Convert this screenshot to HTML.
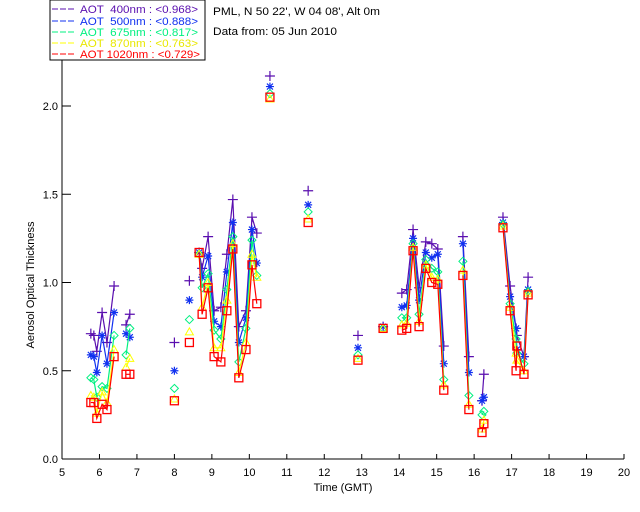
<!DOCTYPE html>
<html><head><meta charset="utf-8"><style>
body{margin:0;background:#fff;width:640px;height:512px;overflow:hidden;font-family:"Liberation Sans",sans-serif}
svg{display:block}
text{font-family:"Liberation Sans",sans-serif;font-size:11px;white-space:pre}
</style></head><body>
<svg id="chart" width="640" height="512" viewBox="0 0 640 512" xml:space="preserve">
<rect x="50" y="0" width="155" height="60" fill="#fff" stroke="#000"/>
<g font-size="11">
<g><line x1="52" y1="9" x2="75" y2="9" stroke="#5a0faf" stroke-dasharray="6,2"/><text x="80" y="13" fill="#5a0faf" textLength="118" lengthAdjust="spacingAndGlyphs">AOT  400nm : &lt;0.968&gt;</text></g>
<g><line x1="52" y1="21" x2="75" y2="21" stroke="#1030f0" stroke-dasharray="6,2"/><text x="80" y="25" fill="#1030f0" textLength="118" lengthAdjust="spacingAndGlyphs">AOT  500nm : &lt;0.888&gt;</text></g>
<g><line x1="52" y1="32" x2="75" y2="32" stroke="#00f080" stroke-dasharray="6,2"/><text x="80" y="36" fill="#00f080" textLength="118" lengthAdjust="spacingAndGlyphs">AOT  675nm : &lt;0.817&gt;</text></g>
<g><line x1="52" y1="43" x2="75" y2="43" stroke="#ffff00" stroke-dasharray="6,2"/><text x="80" y="47" fill="#e8e800" textLength="118" lengthAdjust="spacingAndGlyphs">AOT  870nm : &lt;0.763&gt;</text></g>
<g><line x1="52" y1="54" x2="75" y2="54" stroke="#ff0000" stroke-dasharray="6,2"/><text x="80" y="58" fill="#ff0000" textLength="120" lengthAdjust="spacingAndGlyphs">AOT 1020nm : &lt;0.729&gt;</text></g>
</g>
<text x="213" y="15" textLength="167" lengthAdjust="spacingAndGlyphs">PML, N 50 22', W 04 08', Alt 0m</text>
<text x="213" y="35" textLength="124" lengthAdjust="spacingAndGlyphs">Data from: 05 Jun 2010</text>
<text x="343" y="491" text-anchor="middle">Time (GMT)</text>
<text transform="translate(34,285) rotate(-90)" text-anchor="middle" font-size="10">Aerosol Optical Thickness</text>
<g id="axes"></g>
<g id="marks"></g>
</svg>
<script>
const xTicks=[5,6,7,8,9,10,11,12,13,14,15,16,17,18,19,20];
const yTicks=[0.0,0.5,1.0,1.5,2.0];
const yTickLabels=["0.0","0.5","1.0","1.5","2.0"];
const times=[5.77,5.85,5.93,6.07,6.2,6.39,6.71,6.81,8.0,8.4,8.66,8.74,8.90,9.06,9.24,9.40,9.56,9.72,9.91,10.07,10.20,10.55,11.57,12.9,13.57,14.07,14.2,14.37,14.53,14.71,14.87,15.03,15.19,15.7,15.86,16.21,16.26,16.77,16.96,17.12,17.14,17.33,17.44];
const aot400=[0.71,0.70,0.61,0.83,0.66,0.98,0.76,0.82,0.66,1.01,1.17,1.08,1.26,0.84,0.86,1.16,1.47,0.75,0.84,1.37,1.28,2.17,1.52,0.70,0.75,0.94,0.96,1.30,0.97,1.23,1.22,1.19,0.64,1.26,0.58,0.33,0.48,1.37,0.98,0.74,0.70,0.58,1.03];
const aot500=[0.59,0.58,0.49,0.70,0.54,0.83,0.71,0.69,0.50,0.90,1.17,1.03,1.15,0.78,0.75,1.06,1.34,0.66,0.80,1.30,1.11,2.11,1.44,0.63,0.75,0.86,0.87,1.25,0.90,1.17,1.14,1.16,0.54,1.22,0.49,0.33,0.35,1.34,0.92,0.74,0.62,0.58,0.96];
const aot675=[0.46,0.45,0.35,0.41,0.40,0.70,0.59,0.74,0.40,0.79,1.16,0.97,1.05,0.73,0.68,0.96,1.26,0.55,0.74,1.24,1.04,2.07,1.40,0.59,0.74,0.80,0.80,1.22,0.82,1.13,1.08,1.06,0.45,1.12,0.36,0.25,0.27,1.33,0.88,0.68,0.60,0.54,0.95];
const aot870=[0.36,0.35,0.26,0.38,0.32,0.62,0.52,0.57,0.34,0.72,1.16,0.86,1.00,0.63,0.63,0.90,1.22,0.49,0.66,1.16,1.03,2.04,1.36,0.57,0.74,0.76,0.77,1.20,0.78,1.10,1.03,1.02,0.42,1.07,0.31,0.17,0.22,1.32,0.86,0.60,0.56,0.50,0.94];
const aot1020=[0.32,0.32,0.23,0.31,0.28,0.58,0.48,0.48,0.33,0.66,1.17,0.82,0.97,0.58,0.55,0.84,1.19,0.46,0.62,1.10,0.88,2.05,1.34,0.56,0.74,0.73,0.74,1.18,0.75,1.08,1.00,0.99,0.39,1.04,0.28,0.15,0.20,1.31,0.84,0.50,0.64,0.48,0.93];
const NS="http://www.w3.org/2000/svg";
const X0=62,X1=624,Y0=459,Y1=106;
function sx(t){return X0+(t-5)*(X1-X0)/15;}
function sy(v){return Y0-v*(Y0-Y1)/2;}
function mk(tag,attrs,parent){const e=document.createElementNS(NS,tag);for(const k in attrs)e.setAttribute(k,attrs[k]);parent.appendChild(e);return e;}
const axes=document.getElementById('axes'),marks=document.getElementById('marks');
let ax=mk('line',{x1:X0,y1:60,x2:X0,y2:Y0,stroke:'#000'},axes);


let bx=mk('line',{x1:X0,y1:Y0,x2:X1,y2:Y0,stroke:'#000'},axes);


xTicks.forEach(t=>{const x=sx(t);
 const l=mk('line',{x1:x,y1:Y0,x2:x,y2:Y0-5,stroke:'#000'},axes);
 
 
 const tx=mk('text',{x:x,y:476,'text-anchor':'middle'},axes);tx.textContent=t;
 
 });
yTicks.forEach((v,i)=>{const y=sy(v);
 const l=mk('line',{x1:X0,y1:y,x2:X0+9,y2:y,stroke:'#000'},axes);
 
 
 const tx=mk('text',{x:X0-4,y:y+4,'text-anchor':'end'},axes);tx.textContent=yTickLabels[i];
 
 });
const series=[[aot400,'#5a0faf','plus','series-400nm'],[aot500,'#1030f0','star','series-500nm'],[aot675,'#00f080','diamond','series-675nm'],[aot870,'#ffff00','triangle','series-870nm'],[aot1020,'#ff0000','square','series-1020nm']];
series.forEach(([vals,col,sym,name])=>{
 const g=mk('g',{},marks);
 
 
 let d='';
 for(let i=0;i<times.length;i++){
  const x=sx(times[i]).toFixed(1),y=sy(vals[i]).toFixed(1);
  if(i>0&&times[i]-times[i-1]<0.25)d+='L'+x+' '+y;else d+='M'+x+' '+y;
 }
 const p=mk('path',{d:d,fill:'none',stroke:col,'stroke-width':1.2},g);
 
 
 for(let i=0;i<times.length;i++){
  const x=sx(times[i]),y=sy(vals[i]);let m;
  if(sym==='plus')m=mk('path',{d:`M${x-5} ${y}h10M${x} ${y-5}v10`,stroke:col,'stroke-width':1.2,fill:'none'},g);
  else if(sym==='star')m=mk('path',{d:`M${x-4} ${y}h8M${x} ${y-4}v8M${x-3} ${y-3}l6 6M${x-3} ${y+3}l6 -6`,stroke:col,'stroke-width':1.2,fill:'none'},g);
  else if(sym==='diamond')m=mk('path',{d:`M${x} ${y-4}L${x+4} ${y}L${x} ${y+4}L${x-4} ${y}Z`,stroke:col,'stroke-width':1,fill:'none'},g);
  else if(sym==='triangle')m=mk('path',{d:`M${x} ${y-4}L${x+4} ${y+3}L${x-4} ${y+3}Z`,stroke:col,'stroke-width':1,fill:'none'},g);
  else m=mk('rect',{x:x-4,y:y-4,width:8,height:8,stroke:col,'stroke-width':1.3,fill:'none'},g);
  
  
 }
});
</script>
</body></html>
